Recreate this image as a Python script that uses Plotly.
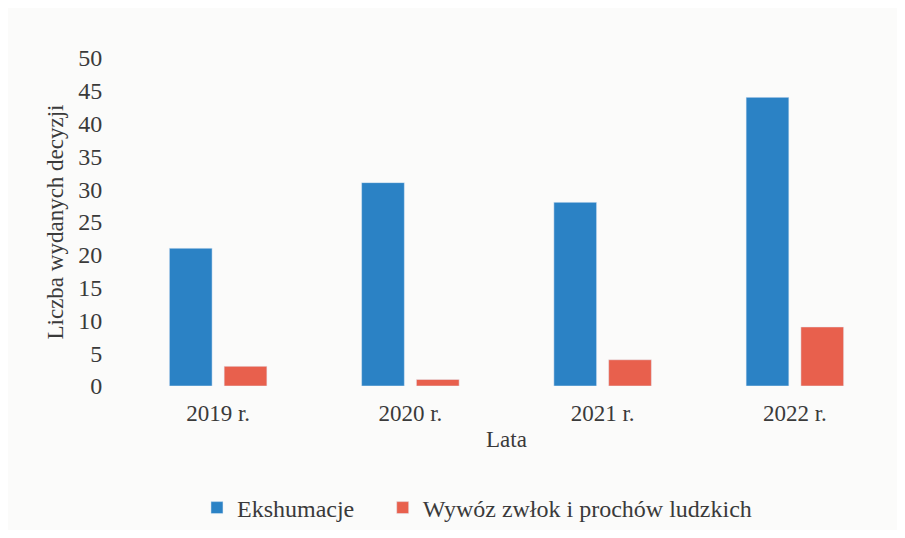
import plotly.graph_objects as go

years = ["2019 r.", "2020 r.", "2021 r.", "2022 r."]
ekshumacje = [21, 31, 28, 44]
wywoz = [3, 1, 4, 9]
y_ticks = [0, 5, 10, 15, 20, 25, 30, 35, 40, 45, 50]

font_family = "Liberation Serif, Times New Roman, serif"
text_color = "#3a3a3a"
legend_font = dict(family=font_family, size=24, color=text_color)

fig = go.Figure()
fig.add_trace(go.Bar(name="Ekshumacje", x=years, y=ekshumacje, marker_color="#2b82c5",
                     legend="legend"))
fig.add_trace(go.Bar(name="Wywóz zwłok i prochów ludzkich", x=years, y=wywoz,
                     marker_color="#e8604d", legend="legend2"))

fig.update_layout(
    width=889, height=522,
    barmode="group", bargap=0.43, bargroupgap=0.22,
    paper_bgcolor="#fbfbfa", plot_bgcolor="#fbfbfa",
    margin=dict(l=114, r=6, t=50, b=144, autoexpand=False),
    font=dict(family=font_family, size=23, color=text_color),
    legend=dict(orientation="h", x=0.0975, xanchor="left", y=-0.372, yanchor="middle",
                font=legend_font, itemwidth=30, bgcolor="rgba(0,0,0,0)"),
    legend2=dict(orientation="h", x=0.339, xanchor="left", y=-0.372, yanchor="middle",
                 font=legend_font, itemwidth=30, bgcolor="rgba(0,0,0,0)"),
    showlegend=True,
)
fig.update_xaxes(
    showgrid=False, showline=False, zeroline=False,
    ticks="outside", ticklen=6, tickcolor="rgba(0,0,0,0)",
    tickfont=dict(family=font_family, size=23, color=text_color),
    title=dict(text="Lata", standoff=6, font=dict(family=font_family, size=23, color=text_color)),
)
fig.update_yaxes(
    range=[0, 50], tickvals=y_ticks, showgrid=False, showline=False, zeroline=False,
    ticks="outside", ticklen=14, tickcolor="rgba(0,0,0,0)",
    tickfont=dict(family=font_family, size=24, color=text_color),
    title=dict(text="Liczba wydanych decyzji", standoff=8,
               font=dict(family=font_family, size=23, color=text_color)),
)

fig.write_html("out.html")
